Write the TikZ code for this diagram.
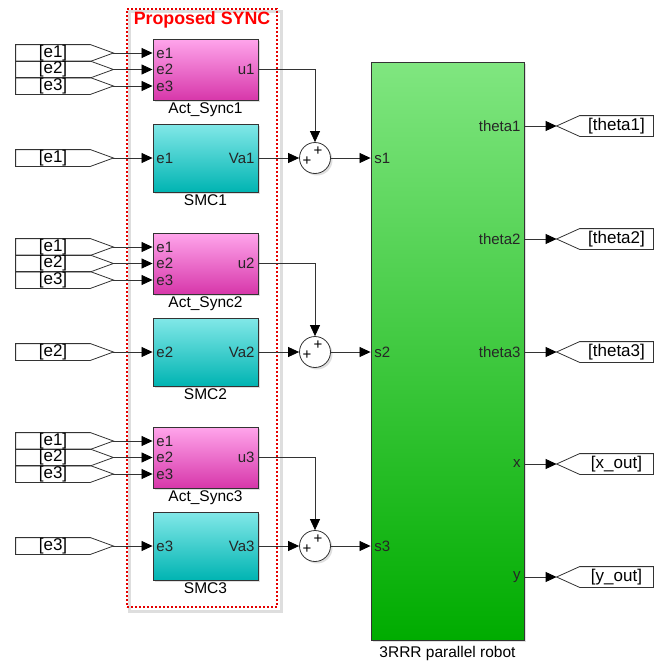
\documentclass[tikz,border=0pt]{standalone}
\usepackage{fontspec}
\setmainfont{Liberation Sans}
\usetikzlibrary{arrows.meta, positioning, shadows, backgrounds}

\begin{document}
\begin{tikzpicture}[
        x=1pt, y=-1pt,
        font=\fontsize{15}{16}\selectfont,
        >={Triangle[length=11pt, width=10pt, color=black]},
        line width=0.8pt,
        wire/.style={draw=black!80, ->},
        blk/.style={
            draw=black!80,
            line width=0.9pt,
            minimum width=105pt,
            drop shadow={opacity=0.25, shadow xshift=2pt, shadow yshift=-2pt}
        },
        syncblk/.style={blk, minimum height=61pt,
            top color={rgb,255:red,255;green,165;blue,235},
            bottom color={rgb,255:red,215;green,55;blue,170}},
        smcblk/.style={blk, minimum height=68pt,
            top color={rgb,255:red,130;green,232;blue,232},
            bottom color={rgb,255:red,0;green,180;blue,178}},
        robotblk/.style={blk, minimum width=153pt, minimum height=578pt,
            top color={rgb,255:red,128;green,230;blue,128},
            bottom color={rgb,255:red,0;green,172;blue,0}},
        port/.style={inner sep=3.5pt, text=black!85},
        blkname/.style={inner sep=1pt, font=\fontsize{15.5}{17}\selectfont},
        fromtag/.style={minimum width=74pt, minimum height=16pt, inner sep=0pt,
            font=\fontsize{17}{17}\selectfont,
            append after command={\pgfextra{\draw[black!80, line width=0.8pt]
                (\tikzlastnode.north west) -- (\tikzlastnode.north east)
                -- ([xshift=23pt]\tikzlastnode.east) -- (\tikzlastnode.south east)
                -- (\tikzlastnode.south west) -- cycle;}}},
        gototag/.style={minimum width=73pt, minimum height=20pt, inner sep=0pt,
            font=\fontsize{17}{17}\selectfont,
            append after command={\pgfextra{\draw[black!80, line width=0.8pt]
                (\tikzlastnode.north east) -- (\tikzlastnode.north west)
                -- ([xshift=-23pt]\tikzlastnode.west) -- (\tikzlastnode.south west)
                -- (\tikzlastnode.south east) -- cycle;}}},
        sumblk/.style={circle, draw=black!80, fill=white, minimum size=31pt, inner sep=0pt,
            drop shadow={opacity=0.25, shadow xshift=2pt, shadow yshift=-2pt},
            label={[font=\fontsize{15}{15}\selectfont, inner sep=0pt, xshift=3pt, yshift=7pt]center:+},
            label={[font=\fontsize{15}{15}\selectfont, inner sep=0pt, xshift=-8pt, yshift=-3pt]center:+}},
        syncframe/.style={draw=red!90!black, line width=2pt, dash pattern=on 2pt off 2pt,
            minimum width=150pt, minimum height=598pt}
    ]
    \useasboundingbox (0,0) rectangle (670,664);

    % dotted group and its title
    \node[syncframe] (syncbox) at (202,308) {};
    \begin{scope}[on background layer]
        \draw[black!13, line width=2.5pt]
            ([shift={(3.5pt,-3.5pt)}]syncbox.north west) rectangle ([shift={(3.5pt,-3.5pt)}]syncbox.south east);
    \end{scope}
    \node[text=red, font=\bfseries\fontsize{17.8}{19}\selectfont, below=0pt of syncbox.north] (synctitle) {Proposed SYNC};

    % plant
    \node[robotblk] (robot) at (447.5,351) {};
    \node[blkname, below=4pt of robot] (robotname) {3RRR parallel robot};

    \foreach \i/\dy/\e in {1/0/e1, 2/194/e2, 3/388/e3} {
        \node[syncblk] (a\i) at (205.5, 69.5+\dy) {};
        \node[blkname, below=1pt of a\i] (a\i-name) {Act\_Sync\i};
        \node[smcblk] (c\i) at (205.5, 158+\dy) {};
        \node[blkname, below=1pt of c\i] (c\i-name) {SMC\i};
        \node[sumblk] (s\i) at (315, 158+\dy) {};

        \node[fromtag] (f\i-1) at (53, 53+\dy) {[e1]};
        \node[fromtag] (f\i-2) at (53, 69.5+\dy) {[e2]};
        \node[fromtag] (f\i-3) at (53, 86+\dy) {[e3]};
        \node[fromtag] (f\i-4) at (53, 158+\dy) {[\e]};

        \node[port, anchor=west] (a\i-p1) at (a\i.west |- f\i-1) {e1};
        \node[port, anchor=west] (a\i-p2) at (a\i.west |- f\i-2) {e2};
        \node[port, anchor=west] (a\i-p3) at (a\i.west |- f\i-3) {e3};
        \node[port, anchor=east] (a\i-po) at (a\i.east) {u\i};
        \node[port, anchor=west] (c\i-p) at (c\i.west) {\e};
        \node[port, anchor=east] (c\i-po) at (c\i.east) {Va\i};
        \node[port, anchor=west] (robot-s\i) at (robot.west |- s\i) {s\i};

        \draw[wire] ([xshift=23pt]f\i-1.east) -- (a\i.west |- f\i-1);
        \draw[wire] ([xshift=23pt]f\i-2.east) -- (a\i.west |- f\i-2);
        \draw[wire] ([xshift=23pt]f\i-3.east) -- (a\i.west |- f\i-3);
        \draw[wire] ([xshift=23pt]f\i-4.east) -- (c\i.west);
        \draw[wire] (a\i.east) -| (s\i.north);
        \draw[wire] (c\i.east) -- (s\i.west);
        \draw[wire] (s\i.east) -- (robot.west |- s\i);
    }

    \foreach \k/\o/\yy/\t in {1/theta1/126/[theta1], 2/theta2/239/[theta2], 3/theta3/352/[theta3],
                              4/x/464/[x\_out], 5/y/577/[y\_out]} {
        \node[gototag] (g\k) at (616.5, \yy) {\t};
        \node[port, anchor=east] (robot-o\k) at (robot.east |- g\k) {\o};
        \draw[wire] (robot.east |- g\k) -- ([xshift=-23pt]g\k.west);
    }
\end{tikzpicture}
\end{document}
